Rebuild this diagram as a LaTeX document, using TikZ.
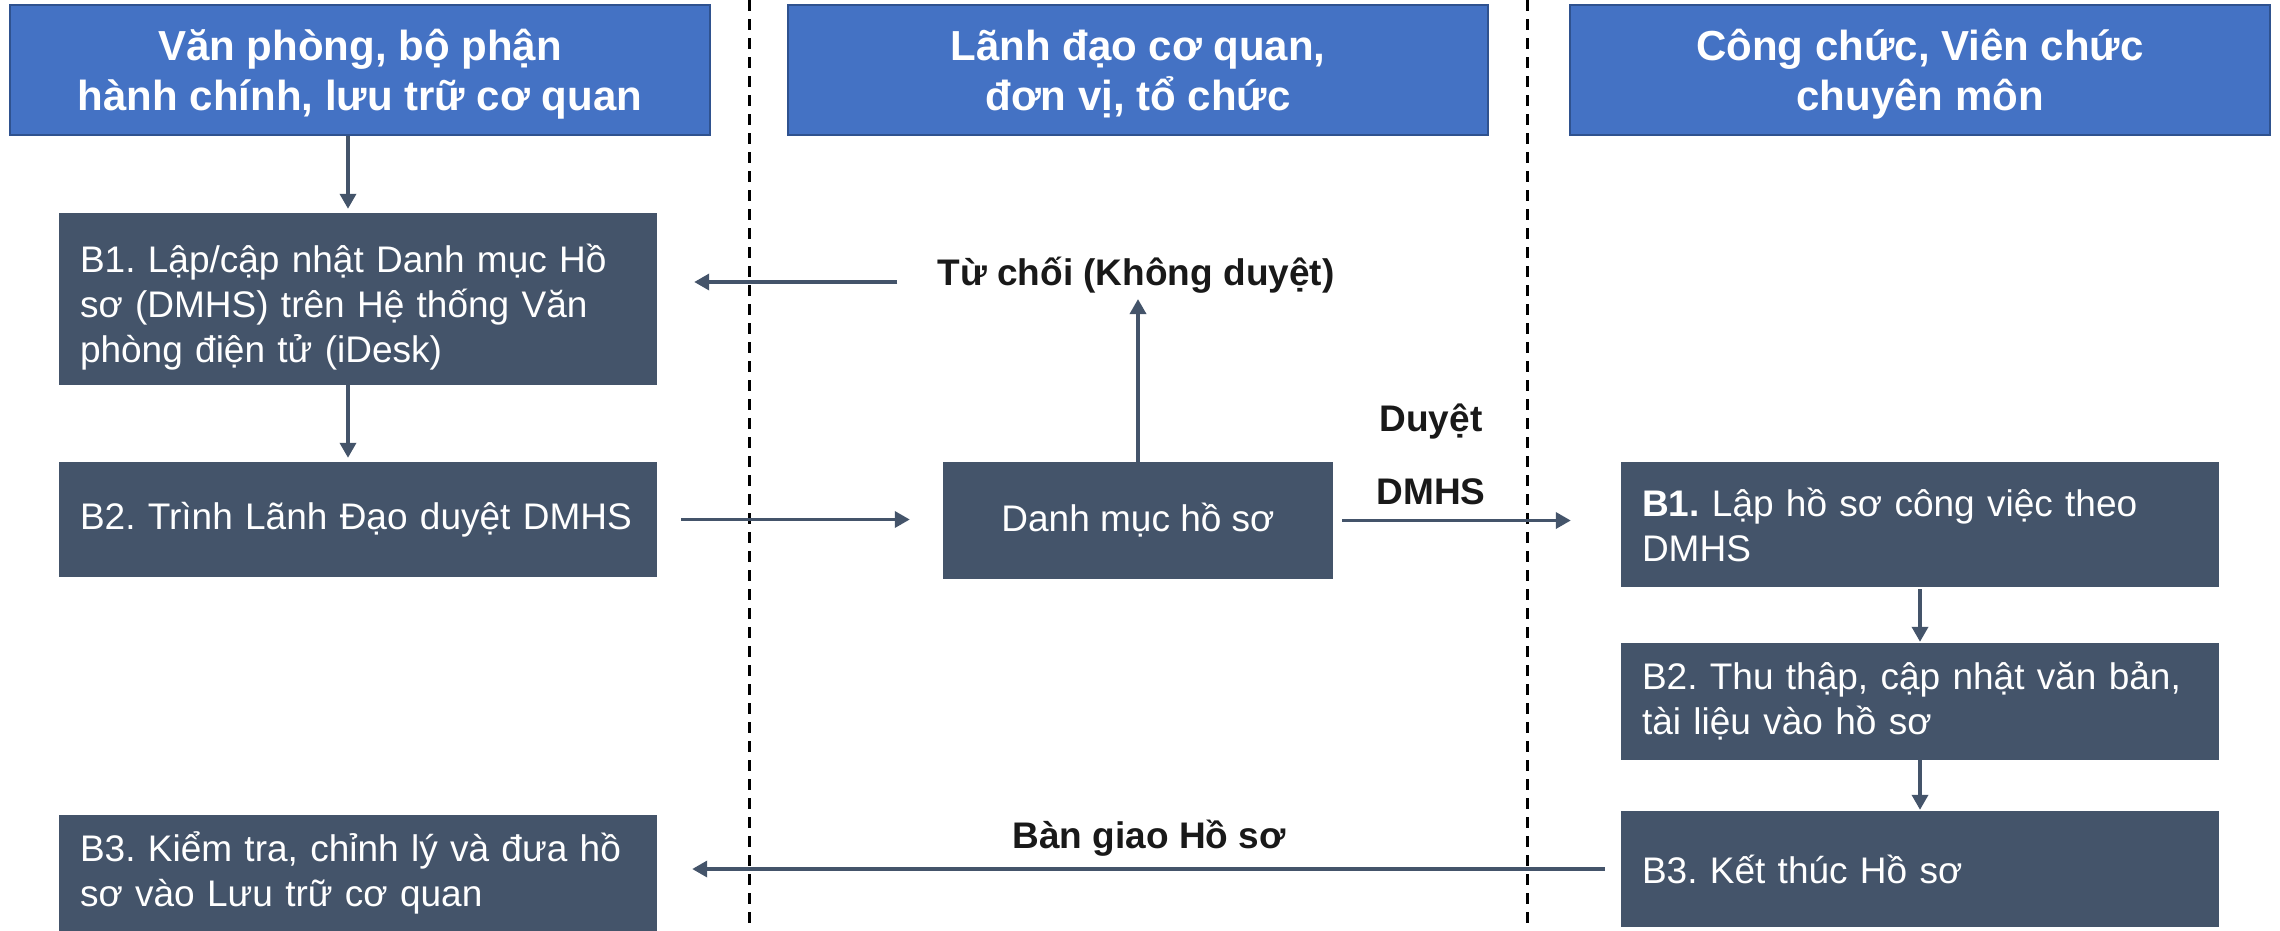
\documentclass[tikz,border=0pt]{standalone}
\usepackage{fontspec}
\setmainfont{Liberation Sans}
\usepackage{tikz}
\usetikzlibrary{arrows.meta}

\definecolor{hdrfill}{HTML}{4472C4}
\definecolor{hdrline}{HTML}{2F528F}
\definecolor{stepfill}{HTML}{44546A}

\frenchspacing

\begin{document}
\begin{tikzpicture}
    [
    x=1pt, y=-1pt,
    lane/.style={black, line width=3pt, dash pattern=on 11pt off 8pt},
    header/.style={draw=hdrline, line width=2pt, fill=hdrfill, text=white,
      font=\bfseries\fontsize{42}{50}\selectfont, align=center,
      minimum width=700pt, minimum height=130pt, inner sep=0pt,
      text height=90pt, text depth=9pt},
    stepbox/.style={fill=stepfill, text=white, font=\fontsize{37}{45}\selectfont,
      align=left, text width=556pt, inner xsep=21pt, inner ysep=0pt},
    listbox/.style={fill=stepfill, text=white, font=\fontsize{37}{45}\selectfont,
      minimum width=390pt, minimum height=117pt, inner sep=0pt},
    lbl/.style={font=\bfseries\fontsize{37}{45}\selectfont, text=black!90,
      inner sep=0pt, anchor=base},
    flow/.style={draw=stepfill, line width=3.5pt, -{Triangle[length=15pt,width=16pt]}},
    ]
    \useasboundingbox (0,0) rectangle (2280,930);

    \draw [lane] (749,0) to (749,930);
    \draw [lane] (1527,0) to (1527,930);

    \node (h1) at (360,70) [header] {Văn phòng, bộ phận\\hành chính, lưu trữ cơ quan};
    \node (h2) at (1138,70) [header] {Lãnh đạo cơ quan,\\đơn vị, tổ chức};
    \node (h3) at (1920,70) [header] {Công chức, Viên chức\\chuyên môn};

    \node (lb1) at (358,299) [stepbox, minimum height=172pt, text height=44pt, text depth=98pt]
      {B1. Lập/cập nhật Danh mục Hồ\\sơ (DMHS) trên Hệ thống Văn\\phòng điện tử (iDesk)};
    \node (lb2) at (358,519.5) [stepbox, minimum height=115pt]
      {B2. Trình Lãnh Đạo duyệt DMHS};
    \node (lb3) at (358,873) [stepbox, minimum height=116pt]
      {B3. Kiểm tra, chỉnh lý và đưa hồ\\sơ vào Lưu trữ cơ quan};

    \node (dm) at (1138,520.5) [listbox] {Danh mục hồ sơ};

    \node (rb1) at (1920,524.5) [stepbox, minimum height=125pt]
      {\textbf{B1.} Lập hồ sơ công việc theo\\DMHS};
    \node (rb2) at (1920,701.5) [stepbox, minimum height=117pt]
      {B2. Thu thập, cập nhật văn bản,\\tài liệu vào hồ sơ};
    \node (rb3) at (1920,869) [stepbox, minimum height=116pt]
      {B3. Kết thúc Hồ sơ};

    \node (reject) at (1136,285) [lbl] {Từ chối (Không duyệt)};
    \node (okA) at (1431,431) [lbl] {Duyệt};
    \node (okB) at (1431,504) [lbl] {DMHS};
    \node (handover) at (1149,848) [lbl] {Bàn giao Hồ sơ};

    \coordinate (laxis) at (348,0);
    \coordinate (rejectend) at ([xshift=-40pt,yshift=3pt]reject.base west);

    \draw [flow, shorten >=4pt] (laxis |- h1.south) to (laxis |- lb1.north);
    \draw [flow, shorten >=4pt] (laxis |- lb1.south) to (laxis |- lb2.north);
    \draw [flow, shorten <=24pt, shorten >=33pt] (lb2.east) to (lb2.east -| dm.west);
    \draw [flow, shorten >=6pt] (dm.north) to (dm.north |- reject.south);
    \draw [flow, shorten >=37pt] (rejectend) to (rejectend -| lb1.east);
    \draw [flow, shorten <=9pt, shorten >=50pt] (dm.east) to (dm.east -| rb1.west);
    \draw [flow, shorten <=2pt, shorten >=1pt] (rb1) to (rb2);
    \draw [flow, shorten >=1pt] (rb2) to (rb3);
    \draw [flow, shorten <=16pt, shorten >=35pt] (rb3.west) to (rb3.west -| lb3.east);
  \end{tikzpicture}
\end{document}
